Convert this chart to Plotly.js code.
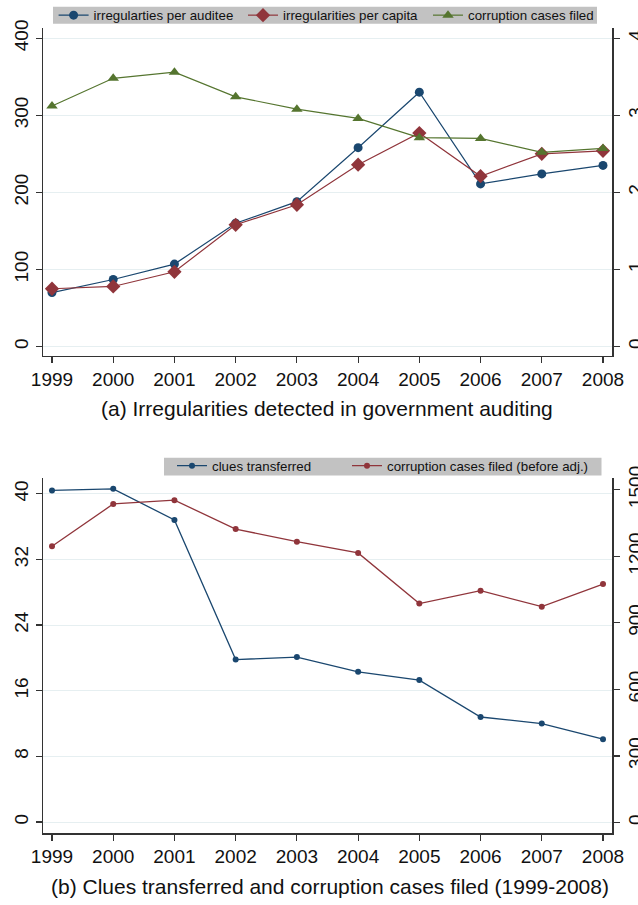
<!DOCTYPE html>
<html>
<head>
<meta charset="utf-8">
<script src="https://cdn.plot.ly/plotly-3.0.1.min.js"></script>
<style>html,body{margin:0;padding:0;background:#fff;}#chart{width:638px;height:905px;}</style>
</head>
<body>
<div id="chart"></div>
<script>
// ---- data ----
const years = [1999, 2000, 2001, 2002, 2003, 2004, 2005, 2006, 2007, 2008];
const irregPerAuditee = [70, 87, 107, 160, 188, 258, 330, 211, 224, 235];
const irregPerCapita = [75, 78, 97, 158, 184, 236, 277, 221, 250, 254];
const corruptionCasesFiled = [3.12, 3.48, 3.56, 3.24, 3.08, 2.96, 2.71, 2.70, 2.52, 2.57];
const cluesTransferred = [40.4, 40.6, 36.8, 19.8, 20.1, 18.3, 17.3, 12.8, 12.0, 10.1];
const casesFiledBeforeAdj = [1245, 1436, 1453, 1323, 1266, 1215, 987, 1045, 973, 1075];

const yTicksA = [0, 100, 200, 300, 400];
const yTicksA2 = [0, 1, 2, 3, 4];
const yTicksB = [0, 8, 16, 24, 32, 40];
const yTicksB2 = [0, 300, 600, 900, 1200, 1500];

const titleA = "(a) Irregularities detected in government auditing";
const titleB = "(b) Clues transferred and corruption cases filed (1999-2008)";

const BLUE = "#1a476f", RED = "#90353b", GREEN = "#55752f";
const FONT = "'Liberation Sans Narrow', 'Arial Narrow', 'Liberation Sans', Arial, sans-serif";

const traces = [
  {x: years, y: irregPerAuditee, name: "irregularties per auditee", xaxis: "x", yaxis: "y", legend: "legend",
   mode: "lines+markers", line: {color: BLUE, width: 1.2}, marker: {symbol: "circle", size: 9, color: BLUE}},
  {x: years, y: irregPerCapita, name: "irregularities per capita", xaxis: "x", yaxis: "y", legend: "legend2",
   mode: "lines+markers", line: {color: RED, width: 1.2}, marker: {symbol: "diamond", size: 11, color: RED}},
  {x: years, y: corruptionCasesFiled, name: "corruption cases filed", xaxis: "x", yaxis: "y2", legend: "legend3",
   mode: "lines+markers", line: {color: GREEN, width: 1.2}, marker: {symbol: "triangle-up", size: 10, color: GREEN}},
  {x: years, y: cluesTransferred, name: "clues transferred", xaxis: "x2", yaxis: "y3", legend: "legend4",
   mode: "lines+markers", line: {color: BLUE, width: 1.3}, marker: {symbol: "circle", size: 6, color: BLUE}},
  {x: years, y: casesFiledBeforeAdj, name: "corruption cases filed (before adj.)", xaxis: "x2", yaxis: "y4", legend: "legend5",
   mode: "lines+markers", line: {color: RED, width: 1.3}, marker: {symbol: "circle", size: 6, color: RED}}
];

const xDom = [43/638, 612/638];
const axisCommon = {
  showline: true, linecolor: "#333", linewidth: 1.5, ticks: "outside", ticklen: 6, tickwidth: 1.2,
  tickcolor: "#333", zeroline: false, tickfont: {family: FONT, size: 19, color: "#111"}
};
const xCommon = Object.assign({}, axisCommon, {
  domain: xDom, range: [1998.853, 2008.147], tickmode: "array", tickvals: years,
  ticktext: years.map(String), showgrid: false
});

const py = v => 1 - v / 905;
const px = v => v / 638;
const mkLegend = (xPix, yPix) => ({
  orientation: "h", x: px(xPix), xanchor: "left", y: py(yPix), yanchor: "middle",
  bgcolor: "rgba(0,0,0,0)", font: {family: FONT, size: 13.3, color: "#111"},
  itemclick: false, borderwidth: 0
});

const layout = {
  width: 638, height: 905,
  margin: {l: 0, r: 0, t: 0, b: 0},
  paper_bgcolor: "#fff", plot_bgcolor: "#fff",
  font: {family: FONT, color: "#111"},
  showlegend: true,
  xaxis: Object.assign({}, xCommon, {anchor: "y"}),
  yaxis: Object.assign({}, axisCommon, {
    domain: [py(355), py(27)], range: [-11.7, 413.3], tickmode: "array", tickvals: yTicksA,
    tickangle: -90, showgrid: true, gridcolor: "#e6eff1", gridwidth: 1, anchor: "x"
  }),
  yaxis2: Object.assign({}, axisCommon, {
    overlaying: "y", side: "right", anchor: "x", range: [-0.117, 4.133], tickmode: "array",
    tickvals: yTicksA2, tickangle: -90, showgrid: false
  }),
  xaxis2: Object.assign({}, xCommon, {anchor: "y3"}),
  yaxis3: Object.assign({}, axisCommon, {
    domain: [py(833), py(478)], range: [-1.34, 41.86], tickmode: "array", tickvals: yTicksB,
    tickangle: -90, showgrid: true, gridcolor: "#e6eff1", gridwidth: 1, anchor: "x2"
  }),
  yaxis4: Object.assign({}, axisCommon, {
    overlaying: "y3", side: "right", anchor: "x2", range: [-48, 1551], tickmode: "array",
    tickvals: yTicksB2, tickangle: -90, showgrid: false
  }),
  shapes: [
    {type: "rect", xref: "paper", yref: "paper", x0: px(53), x1: px(597), y0: py(22.7), y1: py(5.7),
     fillcolor: "#c2c2c2", line: {width: 0}, layer: "above"},
    {type: "rect", xref: "paper", yref: "paper", x0: px(164), x1: px(601.5), y0: py(475), y1: py(457.3),
     fillcolor: "#c2c2c2", line: {width: 0}, layer: "above"}
  ],
  legend: mkLegend(53.6, 14.2),
  legend2: mkLegend(243, 14.2),
  legend3: mkLegend(428, 14.2),
  legend4: mkLegend(172, 466),
  legend5: mkLegend(347, 466),
  annotations: [
    {text: titleA, xref: "paper", yref: "paper", x: px(327), y: py(408), xanchor: "center", yanchor: "middle",
     showarrow: false, font: {family: FONT, size: 21, color: "#111"}},
    {text: titleB, xref: "paper", yref: "paper", x: px(330), y: py(886), xanchor: "center", yanchor: "middle",
     showarrow: false, font: {family: FONT, size: 21, color: "#111"}}
  ]
};

Plotly.newPlot("chart", traces, layout, {displayModeBar: false, staticPlot: true});
</script>
</body>
</html>
